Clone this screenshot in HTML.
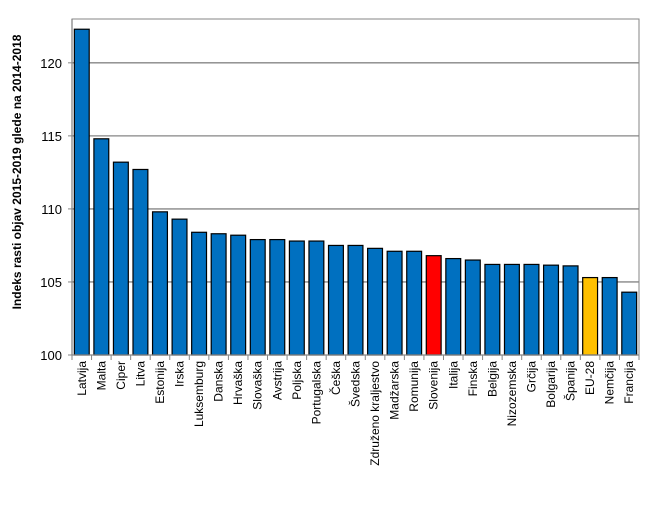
<!DOCTYPE html>
<html><head><meta charset="utf-8"><style>
body{margin:0;background:#fff;}
svg{display:block;font-family:"Liberation Sans",sans-serif;}
</style></head><body>
<svg id="chart" width="661" height="505">
<g id="grid"></g>
<g id="bars"></g>
<g id="axes"></g>
<text transform="translate(21,172) rotate(-90)" text-anchor="middle" font-size="12" font-weight="bold" fill="#000">Indeks rasti objav 2015-2019 glede na 2014-2018</text>
</svg>
<script>
const categories=["Latvija","Malta","Ciper","Litva","Estonija","Irska","Luksemburg","Danska","Hrvaška","Slovaška","Avstrija","Poljska","Portugalska","Češka","Švedska","Združeno kraljestvo","Madžarska","Romunija","Slovenija","Italija","Finska","Belgija","Nizozemska","Grčija","Bolgarija","Španija","EU-28","Nemčija","Francija"];
const values=[122.3,114.8,113.2,112.7,109.8,109.3,108.4,108.3,108.2,107.9,107.9,107.8,107.8,107.5,107.5,107.3,107.1,107.1,106.8,106.6,106.5,106.2,106.2,106.2,106.15,106.1,105.3,105.3,104.3];
const yTicks=[100,105,110,115,120];
const yMin=100,yMax=123;
const L=72,R=639,T=19,B=355;
const NS="http://www.w3.org/2000/svg";
function y(v){return B-(v-yMin)/(yMax-yMin)*(B-T);}
const band=(R-L)/categories.length;
function x(i){return L+i*band;}
function mk(t,a,p){const e=document.createElementNS(NS,t);for(const k in a)e.setAttribute(k,a[k]);p.appendChild(e);return e;}
const grid=document.getElementById('grid'),bars=document.getElementById('bars'),axes=document.getElementById('axes');
mk('rect',{x:L,y:T,width:R-L,height:B-T,fill:'#fff',stroke:'#868686','stroke-width':1},grid);
yTicks.forEach(t=>{
  if(t>yMin){const g=mk('line',{x1:L,x2:R,y1:y(t),y2:y(t),stroke:'#868686','stroke-width':1.3},grid);
  
  }
  mk('line',{x1:L-4,x2:L,y1:y(t),y2:y(t),stroke:'#868686'},axes);
  const tx=mk('text',{x:L-10,y:y(t)+5,'text-anchor':'end','font-size':13,fill:'#000'},axes);
  tx.textContent=t;
  
  
});
categories.forEach((c,i)=>{
  const col=c==="Slovenija"?"#ff0000":(c==="EU-28"?"#ffc000":"#0070c0");
  const bw=band*0.76;
  const r=mk('rect',{x:x(i)+(band-bw)/2,y:y(values[i]),width:bw,height:B-y(values[i]),fill:col,stroke:'#000','stroke-width':1.2},bars);
  
  
  mk('line',{x1:x(i),x2:x(i),y1:B,y2:B+5,stroke:'#868686'},axes);
  const cx=x(i)+band/2+4;
  const t=mk('text',{transform:`translate(${cx},${B+6}) rotate(-90)`,'text-anchor':'end','font-size':12,fill:'#000'},axes);
  t.textContent=c;
  
  
});
mk('line',{x1:R,x2:R,y1:B,y2:B+5,stroke:'#868686'},axes);
mk('line',{x1:L,x2:R,y1:B,y2:B,stroke:'#868686','stroke-width':1.3},axes);
mk('line',{x1:L,x2:L,y1:T,y2:B,stroke:'#868686','stroke-width':1.3},axes);
</script>
</body></html>
